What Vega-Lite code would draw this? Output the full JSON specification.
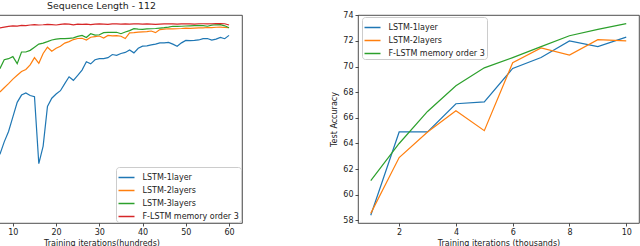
{
  "$schema": "https://vega.github.io/schema/vega-lite/v6.json",
  "background": "white",
  "padding": {"left": -40, "top": 0, "right": 0, "bottom": 0},
  "bounds": "flush",
  "spacing": 116,
  "datasets": {
    "left": [
      {"x":7,"y":0.33,"m":"LSTM-1layer"},{"x":8,"y":0.39,"m":"LSTM-1layer"},{"x":9,"y":0.44,"m":"LSTM-1layer"},{"x":10,"y":0.51,"m":"LSTM-1layer"},{"x":11,"y":0.58,"m":"LSTM-1layer"},{"x":12,"y":0.615,"m":"LSTM-1layer"},{"x":13,"y":0.625,"m":"LSTM-1layer"},{"x":14,"y":0.613,"m":"LSTM-1layer"},{"x":15,"y":0.607,"m":"LSTM-1layer"},{"x":16,"y":0.285,"m":"LSTM-1layer"},{"x":17,"y":0.37,"m":"LSTM-1layer"},{"x":18,"y":0.56,"m":"LSTM-1layer"},{"x":19,"y":0.6,"m":"LSTM-1layer"},{"x":20,"y":0.62,"m":"LSTM-1layer"},{"x":21,"y":0.636,"m":"LSTM-1layer"},{"x":22,"y":0.67,"m":"LSTM-1layer"},{"x":23,"y":0.703,"m":"LSTM-1layer"},{"x":24,"y":0.686,"m":"LSTM-1layer"},{"x":25,"y":0.71,"m":"LSTM-1layer"},{"x":26,"y":0.735,"m":"LSTM-1layer"},{"x":27,"y":0.775,"m":"LSTM-1layer"},{"x":28,"y":0.765,"m":"LSTM-1layer"},{"x":29,"y":0.785,"m":"LSTM-1layer"},{"x":30,"y":0.79,"m":"LSTM-1layer"},{"x":31,"y":0.79,"m":"LSTM-1layer"},{"x":32,"y":0.795,"m":"LSTM-1layer"},{"x":33,"y":0.81,"m":"LSTM-1layer"},{"x":34,"y":0.806,"m":"LSTM-1layer"},{"x":35,"y":0.815,"m":"LSTM-1layer"},{"x":36,"y":0.82,"m":"LSTM-1layer"},{"x":37,"y":0.832,"m":"LSTM-1layer"},{"x":38,"y":0.818,"m":"LSTM-1layer"},{"x":39,"y":0.84,"m":"LSTM-1layer"},{"x":40,"y":0.85,"m":"LSTM-1layer"},{"x":41,"y":0.852,"m":"LSTM-1layer"},{"x":42,"y":0.856,"m":"LSTM-1layer"},{"x":43,"y":0.86,"m":"LSTM-1layer"},{"x":44,"y":0.866,"m":"LSTM-1layer"},{"x":45,"y":0.866,"m":"LSTM-1layer"},{"x":46,"y":0.868,"m":"LSTM-1layer"},{"x":47,"y":0.86,"m":"LSTM-1layer"},{"x":48,"y":0.85,"m":"LSTM-1layer"},{"x":49,"y":0.866,"m":"LSTM-1layer"},{"x":50,"y":0.878,"m":"LSTM-1layer"},{"x":51,"y":0.877,"m":"LSTM-1layer"},{"x":52,"y":0.878,"m":"LSTM-1layer"},{"x":53,"y":0.88,"m":"LSTM-1layer"},{"x":54,"y":0.886,"m":"LSTM-1layer"},{"x":55,"y":0.887,"m":"LSTM-1layer"},{"x":56,"y":0.879,"m":"LSTM-1layer"},{"x":57,"y":0.884,"m":"LSTM-1layer"},{"x":58,"y":0.892,"m":"LSTM-1layer"},{"x":59,"y":0.886,"m":"LSTM-1layer"},{"x":60,"y":0.902,"m":"LSTM-1layer"},
      {"x":7,"y":0.63,"m":"LSTM-2layers"},{"x":8,"y":0.65,"m":"LSTM-2layers"},{"x":9,"y":0.67,"m":"LSTM-2layers"},{"x":10,"y":0.692,"m":"LSTM-2layers"},{"x":11,"y":0.71,"m":"LSTM-2layers"},{"x":12,"y":0.728,"m":"LSTM-2layers"},{"x":13,"y":0.738,"m":"LSTM-2layers"},{"x":14,"y":0.76,"m":"LSTM-2layers"},{"x":15,"y":0.795,"m":"LSTM-2layers"},{"x":16,"y":0.768,"m":"LSTM-2layers"},{"x":17,"y":0.815,"m":"LSTM-2layers"},{"x":18,"y":0.845,"m":"LSTM-2layers"},{"x":19,"y":0.826,"m":"LSTM-2layers"},{"x":20,"y":0.84,"m":"LSTM-2layers"},{"x":21,"y":0.85,"m":"LSTM-2layers"},{"x":22,"y":0.865,"m":"LSTM-2layers"},{"x":23,"y":0.872,"m":"LSTM-2layers"},{"x":24,"y":0.882,"m":"LSTM-2layers"},{"x":25,"y":0.887,"m":"LSTM-2layers"},{"x":26,"y":0.888,"m":"LSTM-2layers"},{"x":27,"y":0.88,"m":"LSTM-2layers"},{"x":28,"y":0.893,"m":"LSTM-2layers"},{"x":29,"y":0.896,"m":"LSTM-2layers"},{"x":30,"y":0.899,"m":"LSTM-2layers"},{"x":31,"y":0.889,"m":"LSTM-2layers"},{"x":32,"y":0.902,"m":"LSTM-2layers"},{"x":33,"y":0.9,"m":"LSTM-2layers"},{"x":34,"y":0.901,"m":"LSTM-2layers"},{"x":35,"y":0.898,"m":"LSTM-2layers"},{"x":36,"y":0.887,"m":"LSTM-2layers"},{"x":37,"y":0.914,"m":"LSTM-2layers"},{"x":38,"y":0.915,"m":"LSTM-2layers"},{"x":39,"y":0.918,"m":"LSTM-2layers"},{"x":40,"y":0.919,"m":"LSTM-2layers"},{"x":41,"y":0.92,"m":"LSTM-2layers"},{"x":42,"y":0.923,"m":"LSTM-2layers"},{"x":43,"y":0.915,"m":"LSTM-2layers"},{"x":44,"y":0.93,"m":"LSTM-2layers"},{"x":45,"y":0.932,"m":"LSTM-2layers"},{"x":46,"y":0.934,"m":"LSTM-2layers"},{"x":47,"y":0.933,"m":"LSTM-2layers"},{"x":48,"y":0.934,"m":"LSTM-2layers"},{"x":49,"y":0.935,"m":"LSTM-2layers"},{"x":50,"y":0.937,"m":"LSTM-2layers"},{"x":51,"y":0.936,"m":"LSTM-2layers"},{"x":52,"y":0.937,"m":"LSTM-2layers"},{"x":53,"y":0.938,"m":"LSTM-2layers"},{"x":54,"y":0.938,"m":"LSTM-2layers"},{"x":55,"y":0.94,"m":"LSTM-2layers"},{"x":56,"y":0.939,"m":"LSTM-2layers"},{"x":57,"y":0.941,"m":"LSTM-2layers"},{"x":58,"y":0.942,"m":"LSTM-2layers"},{"x":59,"y":0.94,"m":"LSTM-2layers"},{"x":60,"y":0.939,"m":"LSTM-2layers"},
      {"x":7,"y":0.742,"m":"LSTM-3layers"},{"x":8,"y":0.785,"m":"LSTM-3layers"},{"x":9,"y":0.79,"m":"LSTM-3layers"},{"x":10,"y":0.8,"m":"LSTM-3layers"},{"x":11,"y":0.766,"m":"LSTM-3layers"},{"x":12,"y":0.822,"m":"LSTM-3layers"},{"x":13,"y":0.822,"m":"LSTM-3layers"},{"x":14,"y":0.83,"m":"LSTM-3layers"},{"x":15,"y":0.845,"m":"LSTM-3layers"},{"x":16,"y":0.86,"m":"LSTM-3layers"},{"x":17,"y":0.865,"m":"LSTM-3layers"},{"x":18,"y":0.872,"m":"LSTM-3layers"},{"x":19,"y":0.88,"m":"LSTM-3layers"},{"x":20,"y":0.884,"m":"LSTM-3layers"},{"x":21,"y":0.886,"m":"LSTM-3layers"},{"x":22,"y":0.886,"m":"LSTM-3layers"},{"x":23,"y":0.888,"m":"LSTM-3layers"},{"x":24,"y":0.89,"m":"LSTM-3layers"},{"x":25,"y":0.897,"m":"LSTM-3layers"},{"x":26,"y":0.902,"m":"LSTM-3layers"},{"x":27,"y":0.892,"m":"LSTM-3layers"},{"x":28,"y":0.91,"m":"LSTM-3layers"},{"x":29,"y":0.903,"m":"LSTM-3layers"},{"x":30,"y":0.905,"m":"LSTM-3layers"},{"x":31,"y":0.915,"m":"LSTM-3layers"},{"x":32,"y":0.916,"m":"LSTM-3layers"},{"x":33,"y":0.916,"m":"LSTM-3layers"},{"x":34,"y":0.917,"m":"LSTM-3layers"},{"x":35,"y":0.91,"m":"LSTM-3layers"},{"x":36,"y":0.918,"m":"LSTM-3layers"},{"x":37,"y":0.925,"m":"LSTM-3layers"},{"x":38,"y":0.934,"m":"LSTM-3layers"},{"x":39,"y":0.932,"m":"LSTM-3layers"},{"x":40,"y":0.931,"m":"LSTM-3layers"},{"x":41,"y":0.933,"m":"LSTM-3layers"},{"x":42,"y":0.934,"m":"LSTM-3layers"},{"x":43,"y":0.935,"m":"LSTM-3layers"},{"x":44,"y":0.937,"m":"LSTM-3layers"},{"x":45,"y":0.939,"m":"LSTM-3layers"},{"x":46,"y":0.942,"m":"LSTM-3layers"},{"x":47,"y":0.946,"m":"LSTM-3layers"},{"x":48,"y":0.945,"m":"LSTM-3layers"},{"x":49,"y":0.946,"m":"LSTM-3layers"},{"x":50,"y":0.947,"m":"LSTM-3layers"},{"x":51,"y":0.948,"m":"LSTM-3layers"},{"x":52,"y":0.949,"m":"LSTM-3layers"},{"x":53,"y":0.95,"m":"LSTM-3layers"},{"x":54,"y":0.949,"m":"LSTM-3layers"},{"x":55,"y":0.946,"m":"LSTM-3layers"},{"x":56,"y":0.951,"m":"LSTM-3layers"},{"x":57,"y":0.953,"m":"LSTM-3layers"},{"x":58,"y":0.954,"m":"LSTM-3layers"},{"x":59,"y":0.948,"m":"LSTM-3layers"},{"x":60,"y":0.939,"m":"LSTM-3layers"},
      {"x":7,"y":0.938,"m":"F-LSTM memory order 3"},{"x":8,"y":0.942,"m":"F-LSTM memory order 3"},{"x":9,"y":0.945,"m":"F-LSTM memory order 3"},{"x":10,"y":0.948,"m":"F-LSTM memory order 3"},{"x":11,"y":0.947,"m":"F-LSTM memory order 3"},{"x":12,"y":0.95,"m":"F-LSTM memory order 3"},{"x":13,"y":0.949,"m":"F-LSTM memory order 3"},{"x":14,"y":0.952,"m":"F-LSTM memory order 3"},{"x":15,"y":0.954,"m":"F-LSTM memory order 3"},{"x":16,"y":0.952,"m":"F-LSTM memory order 3"},{"x":17,"y":0.953,"m":"F-LSTM memory order 3"},{"x":18,"y":0.955,"m":"F-LSTM memory order 3"},{"x":19,"y":0.954,"m":"F-LSTM memory order 3"},{"x":20,"y":0.952,"m":"F-LSTM memory order 3"},{"x":21,"y":0.955,"m":"F-LSTM memory order 3"},{"x":22,"y":0.957,"m":"F-LSTM memory order 3"},{"x":23,"y":0.956,"m":"F-LSTM memory order 3"},{"x":24,"y":0.953,"m":"F-LSTM memory order 3"},{"x":25,"y":0.956,"m":"F-LSTM memory order 3"},{"x":26,"y":0.955,"m":"F-LSTM memory order 3"},{"x":27,"y":0.956,"m":"F-LSTM memory order 3"},{"x":28,"y":0.954,"m":"F-LSTM memory order 3"},{"x":29,"y":0.956,"m":"F-LSTM memory order 3"},{"x":30,"y":0.957,"m":"F-LSTM memory order 3"},{"x":31,"y":0.956,"m":"F-LSTM memory order 3"},{"x":32,"y":0.955,"m":"F-LSTM memory order 3"},{"x":33,"y":0.957,"m":"F-LSTM memory order 3"},{"x":34,"y":0.957,"m":"F-LSTM memory order 3"},{"x":35,"y":0.956,"m":"F-LSTM memory order 3"},{"x":36,"y":0.957,"m":"F-LSTM memory order 3"},{"x":37,"y":0.956,"m":"F-LSTM memory order 3"},{"x":38,"y":0.957,"m":"F-LSTM memory order 3"},{"x":39,"y":0.957,"m":"F-LSTM memory order 3"},{"x":40,"y":0.956,"m":"F-LSTM memory order 3"},{"x":41,"y":0.957,"m":"F-LSTM memory order 3"},{"x":42,"y":0.956,"m":"F-LSTM memory order 3"},{"x":43,"y":0.955,"m":"F-LSTM memory order 3"},{"x":44,"y":0.956,"m":"F-LSTM memory order 3"},{"x":45,"y":0.957,"m":"F-LSTM memory order 3"},{"x":46,"y":0.958,"m":"F-LSTM memory order 3"},{"x":47,"y":0.957,"m":"F-LSTM memory order 3"},{"x":48,"y":0.956,"m":"F-LSTM memory order 3"},{"x":49,"y":0.957,"m":"F-LSTM memory order 3"},{"x":50,"y":0.958,"m":"F-LSTM memory order 3"},{"x":51,"y":0.957,"m":"F-LSTM memory order 3"},{"x":52,"y":0.956,"m":"F-LSTM memory order 3"},{"x":53,"y":0.958,"m":"F-LSTM memory order 3"},{"x":54,"y":0.958,"m":"F-LSTM memory order 3"},{"x":55,"y":0.957,"m":"F-LSTM memory order 3"},{"x":56,"y":0.958,"m":"F-LSTM memory order 3"},{"x":57,"y":0.959,"m":"F-LSTM memory order 3"},{"x":58,"y":0.959,"m":"F-LSTM memory order 3"},{"x":59,"y":0.958,"m":"F-LSTM memory order 3"},{"x":60,"y":0.952,"m":"F-LSTM memory order 3"}
    ],
    "right": [
      {"x":1,"y":58.4,"m":"LSTM-1layer"},{"x":2,"y":64.9,"m":"LSTM-1layer"},{"x":3,"y":64.9,"m":"LSTM-1layer"},{"x":4,"y":67.1,"m":"LSTM-1layer"},{"x":5,"y":67.25,"m":"LSTM-1layer"},{"x":6,"y":69.85,"m":"LSTM-1layer"},{"x":7,"y":70.7,"m":"LSTM-1layer"},{"x":8,"y":72.0,"m":"LSTM-1layer"},{"x":9,"y":71.55,"m":"LSTM-1layer"},{"x":10,"y":72.3,"m":"LSTM-1layer"},
      {"x":1,"y":58.55,"m":"LSTM-2layers"},{"x":2,"y":62.9,"m":"LSTM-2layers"},{"x":3,"y":64.9,"m":"LSTM-2layers"},{"x":4,"y":66.55,"m":"LSTM-2layers"},{"x":5,"y":65.0,"m":"LSTM-2layers"},{"x":6,"y":70.3,"m":"LSTM-2layers"},{"x":7,"y":71.45,"m":"LSTM-2layers"},{"x":8,"y":70.9,"m":"LSTM-2layers"},{"x":9,"y":72.1,"m":"LSTM-2layers"},{"x":10,"y":72.0,"m":"LSTM-2layers"},
      {"x":1,"y":61.1,"m":"F-LSTM memory order 3"},{"x":2,"y":64.0,"m":"F-LSTM memory order 3"},{"x":3,"y":66.5,"m":"F-LSTM memory order 3"},{"x":4,"y":68.5,"m":"F-LSTM memory order 3"},{"x":5,"y":69.9,"m":"F-LSTM memory order 3"},{"x":6,"y":70.7,"m":"F-LSTM memory order 3"},{"x":7,"y":71.55,"m":"F-LSTM memory order 3"},{"x":8,"y":72.4,"m":"F-LSTM memory order 3"},{"x":9,"y":72.9,"m":"F-LSTM memory order 3"},{"x":10,"y":73.35,"m":"F-LSTM memory order 3"}
    ]
  },
  "hconcat": [
    {
      "width": 281,
      "height": 208,
      "title": {"text": "Sequence Length - 112"},
      "data": {"name": "left"},
      "mark": {"type": "line", "strokeWidth": 1.2, "clip": true},
      "encoding": {
        "x": {"field": "x", "type": "quantitative", "scale": {"domain": [-2, 63], "nice": false, "zero": false},
              "axis": {"values": [10, 20, 30, 40, 50, 60], "title": "Training iterations(hundreds)"}},
        "y": {"field": "y", "type": "quantitative", "scale": {"domain": [0, 1], "nice": false}, "axis": null},
        "color": {"field": "m", "type": "nominal",
                  "scale": {"domain": ["LSTM-1layer", "LSTM-2layers", "LSTM-3layers", "F-LSTM memory order 3"],
                            "range": ["#1f77b4", "#ff7f0e", "#2ca02c", "#d62728"]},
                  "legend": {"title": null, "orient": "none", "legendX": 155, "legendY": 152}}
      }
    },
    {
      "width": 281,
      "height": 208,
      "data": {"name": "right"},
      "mark": {"type": "line", "strokeWidth": 1.2, "clip": true},
      "encoding": {
        "x": {"field": "x", "type": "quantitative", "scale": {"domain": [0.55, 10.45], "nice": false, "zero": false},
              "axis": {"values": [2, 4, 6, 8, 10], "title": "Training iterations (thousands)"}},
        "y": {"field": "y", "type": "quantitative", "scale": {"domain": [57.8, 74.02], "nice": false, "zero": false},
              "axis": {"values": [58, 60, 62, 64, 66, 68, 70, 72, 74], "title": "Test Accuracy", "titlePadding": 4}},
        "color": {"field": "m", "type": "nominal",
                  "scale": {"domain": ["LSTM-1layer", "LSTM-2layers", "F-LSTM memory order 3"],
                            "range": ["#1f77b4", "#ff7f0e", "#2ca02c"]},
                  "legend": {"title": null, "orient": "none", "legendX": 4, "legendY": 2}}
      }
    }
  ],
  "resolve": {"scale": {"x": "independent", "y": "independent", "color": "independent"}, "legend": {"color": "independent"}},
  "config": {
    "font": "DejaVu Sans",
    "view": {"stroke": "#222", "strokeWidth": 0.8},
    "axis": {"domain": false, "grid": false, "tickColor": "#222", "tickSize": 3, "tickWidth": 0.8,
             "labelFontSize": 8, "labelColor": "#222", "labelPadding": 2, "labelFont": "DejaVu Sans",
             "titleFontSize": 8, "titleFontWeight": "normal", "titleColor": "#222", "titleFont": "DejaVu Sans", "titlePadding": 3},
    "legend": {"labelFontSize": 8, "labelColor": "#222", "labelFont": "DejaVu Sans", "symbolType": "stroke", "symbolSize": 256,
               "symbolStrokeWidth": 1.5, "labelOffset": 7, "rowPadding": -2, "padding": 1.5,
               "strokeColor": "#cccccc", "fillColor": "rgba(255,255,255,0.8)", "cornerRadius": 3},
    "title": {"fontSize": 9.4, "fontWeight": "normal", "color": "#222", "font": "DejaVu Sans", "offset": 4}
  }
}
